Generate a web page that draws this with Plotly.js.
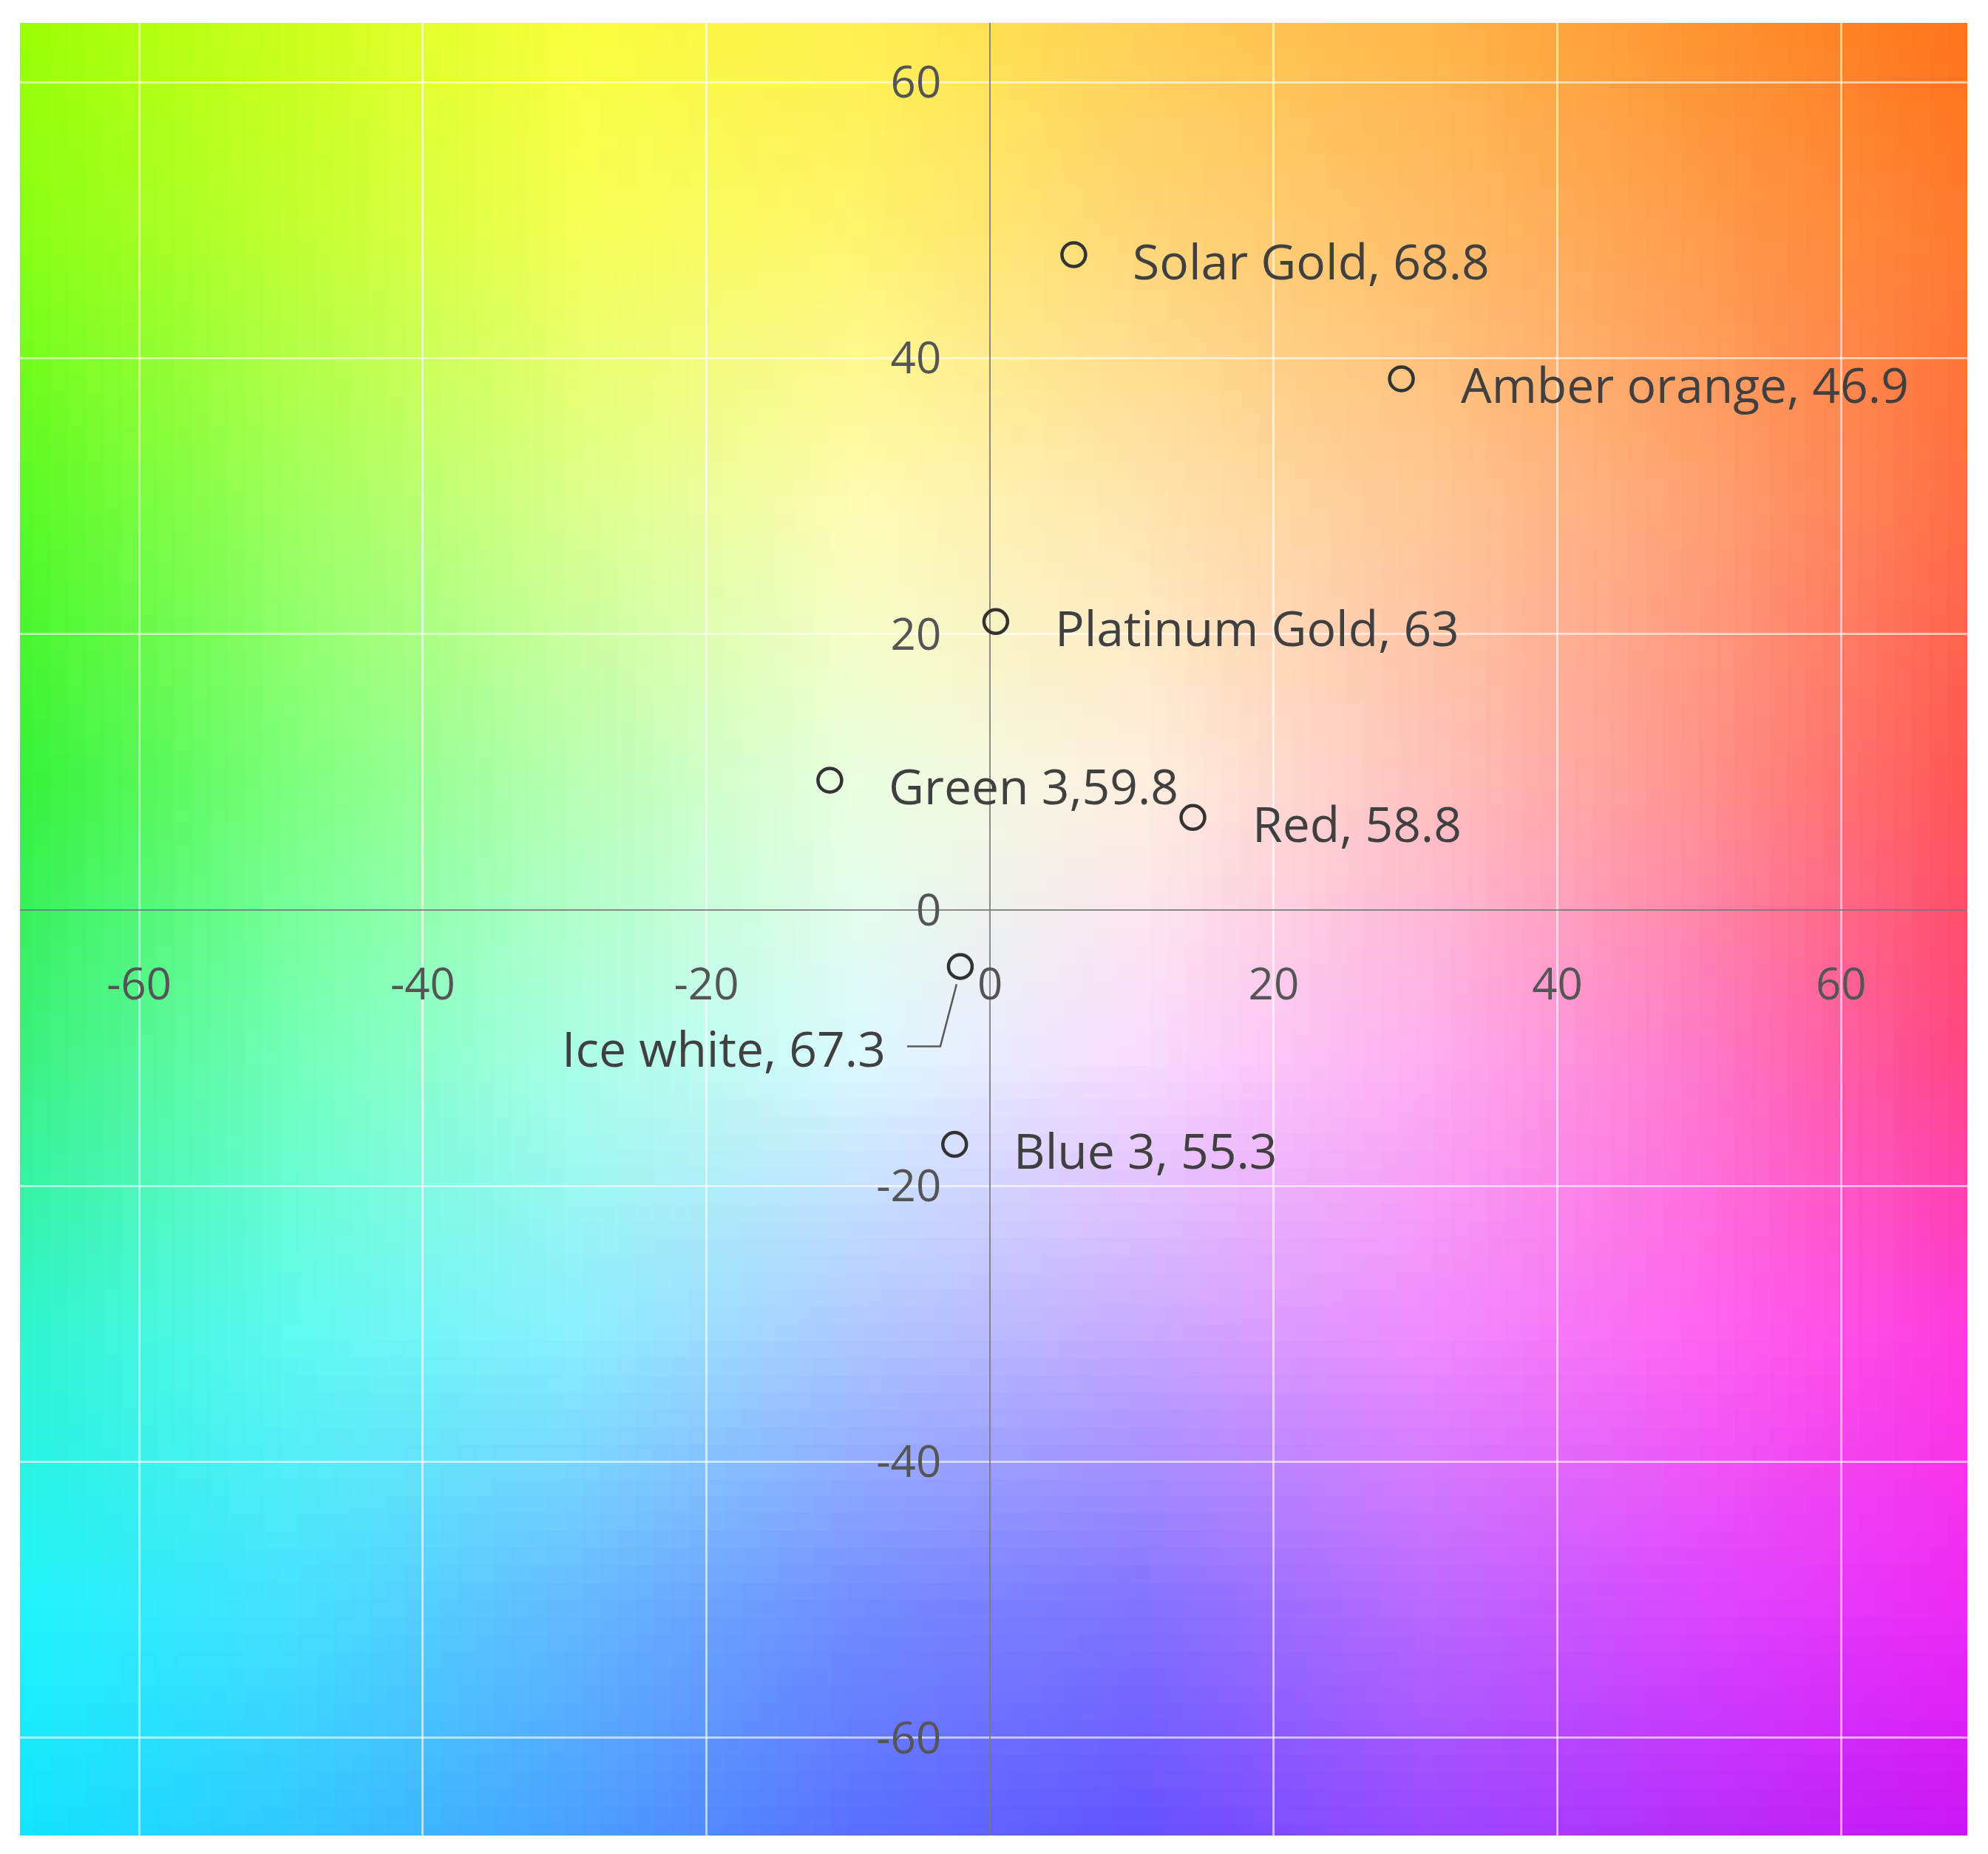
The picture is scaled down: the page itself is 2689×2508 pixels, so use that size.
<!DOCTYPE html>
<html>
<head>
<meta charset="utf-8">
<script src="https://cdn.plot.ly/plotly-3.0.1.min.js"></script>
<style>
  html, body { margin: 0; padding: 0; background: #fff; }
  #chart { width: 2689px; height: 2508px; }
</style>
</head>
<body>
<div id="chart"></div>
<script>
// colours and their CIELAB values
var labels = ['Solar Gold, 68.8', 'Amber orange, 46.9', 'Platinum Gold, 63', 'Green 3,59.8',
              'Red, 58.8', 'Ice white, 67.3', 'Blue 3, 55.3']
var a_star = [5.9, 29.0, 0.4, -11.3, 14.3, -2.1, -2.5]
var b_star = [47.5, 38.5, 20.9, 9.4, 6.7, -4.1, -17.0]
var left_label = [false, false, false, false, false, true, false]

var tick_vals = [-60, -40, -20, 0, 20, 40, 60]
var tick_text = ['-60', '-40', '-20', '0', '20', '40', '60']
var x_range = [-68.4, 68.9]
var y_range = [-67.1, 64.3]

// background colours, cells centred on a*,b* = -70..70 step 20
var bg_a = [-70, -50, -30, -10, 10, 30, 50, 70]
var bg_b = [70, 50, 30, 10, -10, -30, -50, -70]   // top row first
var bg_rows = [
    [[160,255,0],[210,255,20],[252,255,55],[255,240,70],[255,205,75],[255,180,65],[255,145,40],[255,110,20]],
    [[135,255,20],[195,255,50],[245,255,85],[255,245,110],[255,215,120],[255,190,105],[255,155,75],[255,120,45]],
    [[85,250,35],[160,255,95],[220,255,140],[255,252,180],[255,230,175],[255,200,150],[255,160,115],[255,105,65]],
    [[50,242,55],[125,255,125],[185,255,180],[235,255,225],[255,240,225],[255,195,190],[255,145,140],[255,80,80]],
    [[55,240,125],[115,255,185],[170,255,230],[220,250,255],[250,220,255],[255,175,240],[255,120,200],[255,65,125]],
    [[45,245,205],[95,250,240],[140,240,255],[175,200,255],[200,170,255],[240,140,255],[255,100,240],[255,55,220]],
    [[30,245,250],[70,225,255],[100,185,255],[115,140,255],[130,115,255],[185,105,255],[220,70,255],[240,40,245]],
    [[15,228,255],[45,195,255],[70,155,255],[85,105,255],[95,75,255],[145,65,255],[175,40,250],[195,15,245]]
]

function background_url() {
    // tiny bitmap, the browser stretches and smooths it
    var c = document.createElement('canvas')
    c.width = bg_a.length
    c.height = bg_b.length
    var ctx = c.getContext('2d')
    var img = ctx.createImageData(c.width, c.height)
    for (let j = 0; j < c.height; j++) {
        for (let i = 0; i < c.width; i++) {
            let k = (j * c.width + i) * 4
            img.data[k] = bg_rows[j][i][0]
            img.data[k + 1] = bg_rows[j][i][1]
            img.data[k + 2] = bg_rows[j][i][2]
            img.data[k + 3] = 255
        }
    }
    ctx.putImageData(img, 0, 0)
    return c.toDataURL('image/png')
}

var step = bg_a[1] - bg_a[0]
var font = 'Open Sans, sans-serif'

var trace = {
    x: a_star,
    y: b_star,
    mode: 'markers',
    type: 'scatter',
    marker: {
        symbol: 'circle-open',
        size: 32,
        color: '#333333',
        line: { width: 4.5, color: '#333333' }
    },
    hoverinfo: 'skip'
}

var annotations = labels.map(function (t, i) {
    return {
        x: a_star[i], y: b_star[i], xref: 'x', yref: 'y',
        text: t, showarrow: false,
        xanchor: left_label[i] ? 'right' : 'left',
        yanchor: 'middle',
        xshift: left_label[i] ? -99 : 78,
        yshift: left_label[i] ? -110 : -7,
        font: { family: font, size: 66, color: '#404040' }
    }
})

// bent leader line for the label placed on the left
var shapes = []
left_label.forEach(function (on, i) {
    if (!on) return
    shapes.push({
        type: 'path', xref: 'x', yref: 'y',
        xsizemode: 'pixel', ysizemode: 'pixel',
        xanchor: a_star[i], yanchor: b_star[i],
        path: 'M -5 -24 L -27 -108 L -72 -108',
        line: { color: '#5a5a5a', width: 2.5 }
    })
})

var axis_common = {
    tickvals: tick_vals,
    ticktext: tick_text,
    anchor: 'free',
    ticks: '',
    showgrid: true,
    gridcolor: 'rgba(255,255,255,0.6)',
    gridwidth: 3,
    zeroline: true,
    zerolinecolor: 'rgba(120,120,120,0.85)',
    zerolinewidth: 2.5,
    showline: false,
    tickfont: { family: font, size: 60, color: '#555555' }
}

var layout = {
    width: 2689,
    height: 2508,
    margin: { l: 27, r: 28, t: 31, b: 25 },
    paper_bgcolor: '#ffffff',
    plot_bgcolor: 'rgba(0,0,0,0)',
    showlegend: false,
    hovermode: false,
    images: [{
        source: background_url(),
        xref: 'x', yref: 'y',
        x: bg_a[0] - step / 2, y: bg_b[0] + step / 2,
        sizex: step * bg_a.length, sizey: step * bg_b.length,
        xanchor: 'left', yanchor: 'top',
        sizing: 'stretch', layer: 'below'
    }],
    xaxis: Object.assign({}, axis_common, {
        range: x_range,
        position: (0 - y_range[0]) / (y_range[1] - y_range[0]),
        ticklabelstandoff: 60
    }),
    yaxis: Object.assign({}, axis_common, {
        range: y_range,
        position: (0 - x_range[0]) / (x_range[1] - x_range[0]),
        ticklabelstandoff: 66
    }),
    annotations: annotations,
    shapes: shapes
}

Plotly.newPlot('chart', [trace], layout, { displayModeBar: false, staticPlot: true })
</script>
</body>
</html>
